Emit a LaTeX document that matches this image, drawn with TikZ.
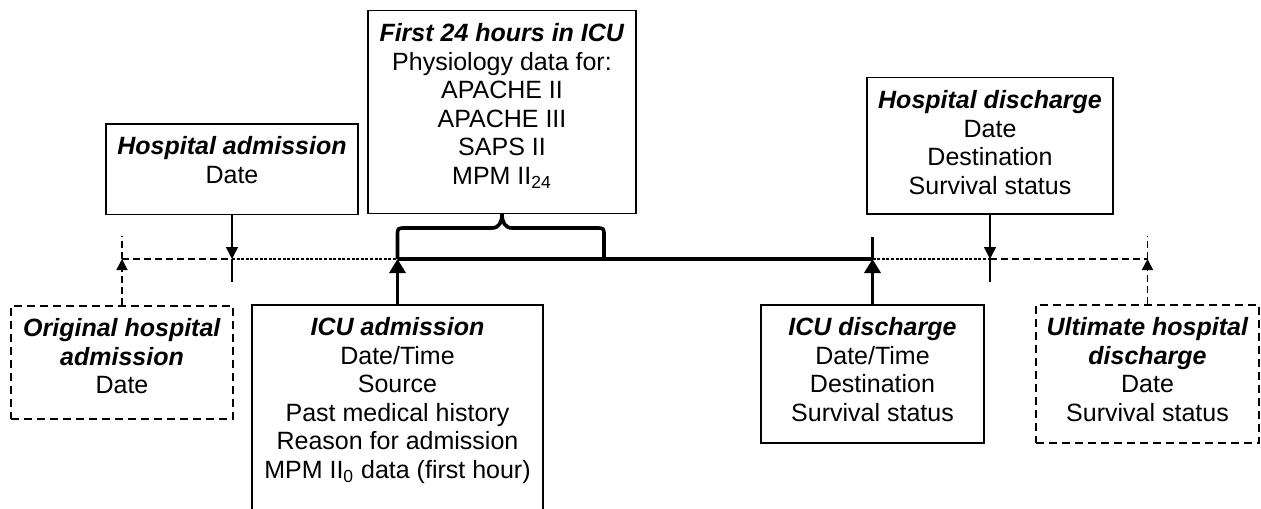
\documentclass[tikz,border=0pt]{standalone}
\usepackage{fontspec}
\setmainfont{Liberation Sans}
\usetikzlibrary{arrows.meta}
\newcommand{\gap}[1]{\rule[-#1]{0pt}{#1}}
\newcommand{\hd}[1]{\textbf{\textit{#1}}}

\begin{document}
\begin{tikzpicture}[x=0.5pt, y=-0.5pt,
    box/.style = {draw, line width=0.75pt, anchor=north, align=center, inner xsep=0pt, inner ysep=6.5pt, font=\fontsize{12.5pt}{14.25pt}\selectfont},
    opt/.style = {box, dash pattern=on 4pt off 2.5pt},
    thinline/.style = {line width=0.7pt, >={Triangle[length=6pt, width=6pt]}},
    hline/.style = {line width=0.55pt, dash pattern=on 1.5pt off 0.8pt},
    oline/.style = {line width=0.8pt, dash pattern=on 3.5pt off 2pt, >={Triangle[length=5.5pt, width=5.5pt]}},
    icu/.style = {line width=1.8pt, >={Triangle[length=7pt, width=8pt]}}]
    \useasboundingbox (0,0) rectangle (1261,508);
    \node[box, minimum width=126pt] (hadm) at (232,123) {\hd{Hospital admission}\\Date\gap{9pt}};
    \node[box, minimum width=134pt] (f24) at (502,10) {\hd{First 24 hours in ICU}\\Physiology data for:\\APACHE II\\APACHE III\\SAPS II\\MPM II\textsubscript{24}\gap{8pt}};
    \node[box, minimum width=123pt] (hdis) at (990,77) {\hd{Hospital discharge}\\Date\\Destination\\Survival status\gap{3.2pt}};
    \node[opt, minimum width=111pt] (oadm) at (122,305) {\hd{Original hospital}\\\hd{admission}\\Date\gap{6pt}};
    \node[box, minimum width=145.5pt] (iadm) at (397.5,304) {\hd{ICU admission}\\Date/Time\\Source\\Past medical history\\Reason for admission\\MPM II\textsubscript{0} data (first hour)\gap{19.5pt}};
    \node[box, minimum width=111.5pt] (idis) at (872.5,304) {\hd{ICU discharge}\\Date/Time\\Destination\\Survival status\gap{4.2pt}};
    \node[opt, minimum width=111.5pt] (udis) at (1147.5,304) {\hd{Ultimate hospital}\\\hd{discharge}\\Date\\Survival status\gap{4.2pt}};
    \coordinate (t1) at (122,259);
    \coordinate (t2) at (232,259);
    \coordinate (t3) at (397.5,259);
    \coordinate (t4) at (872.5,259);
    \coordinate (t5) at (990,259);
    \coordinate (t6) at (1147.5,259);
    \coordinate (b2) at (604,259);
    \draw[oline] (t1) -- (t2);
    \draw[oline] (t5) -- (t6);
    \draw[hline] (t2) -- (t3);
    \draw[hline] (t4) -- (t5);
    \draw[oline] (t1) -- ++(0,-23);
    \draw[oline] (t6) -- ++(0,-23);
    \draw[thinline] (t2) -- ++(0,23);
    \draw[thinline] (t5) -- ++(0,23);
    \draw[icu] (t3) -- (t4);
    \draw[icu] (t4) -- ++(0,-22);
    \draw[icu] (t3) -- (397.5,236) .. controls (397.5,228) .. (405.5,228) -- (492,228)
        .. controls (499,228) and (502,222) .. (f24.south)
        .. controls (502,222) and (505,228) .. (512,228) -- (596,228)
        .. controls (604,228) .. (604,236) -- (b2);
    \draw[thinline, ->] (hadm) -- (t2);
    \draw[thinline, ->] (hdis) -- (t5);
    \draw[oline, ->] (oadm) -- (t1);
    \draw[oline, ->] (udis) -- (t6);
    \draw[icu, ->] (iadm) -- (t3);
    \draw[icu, ->] (idis) -- (t4);
\end{tikzpicture}
\end{document}
